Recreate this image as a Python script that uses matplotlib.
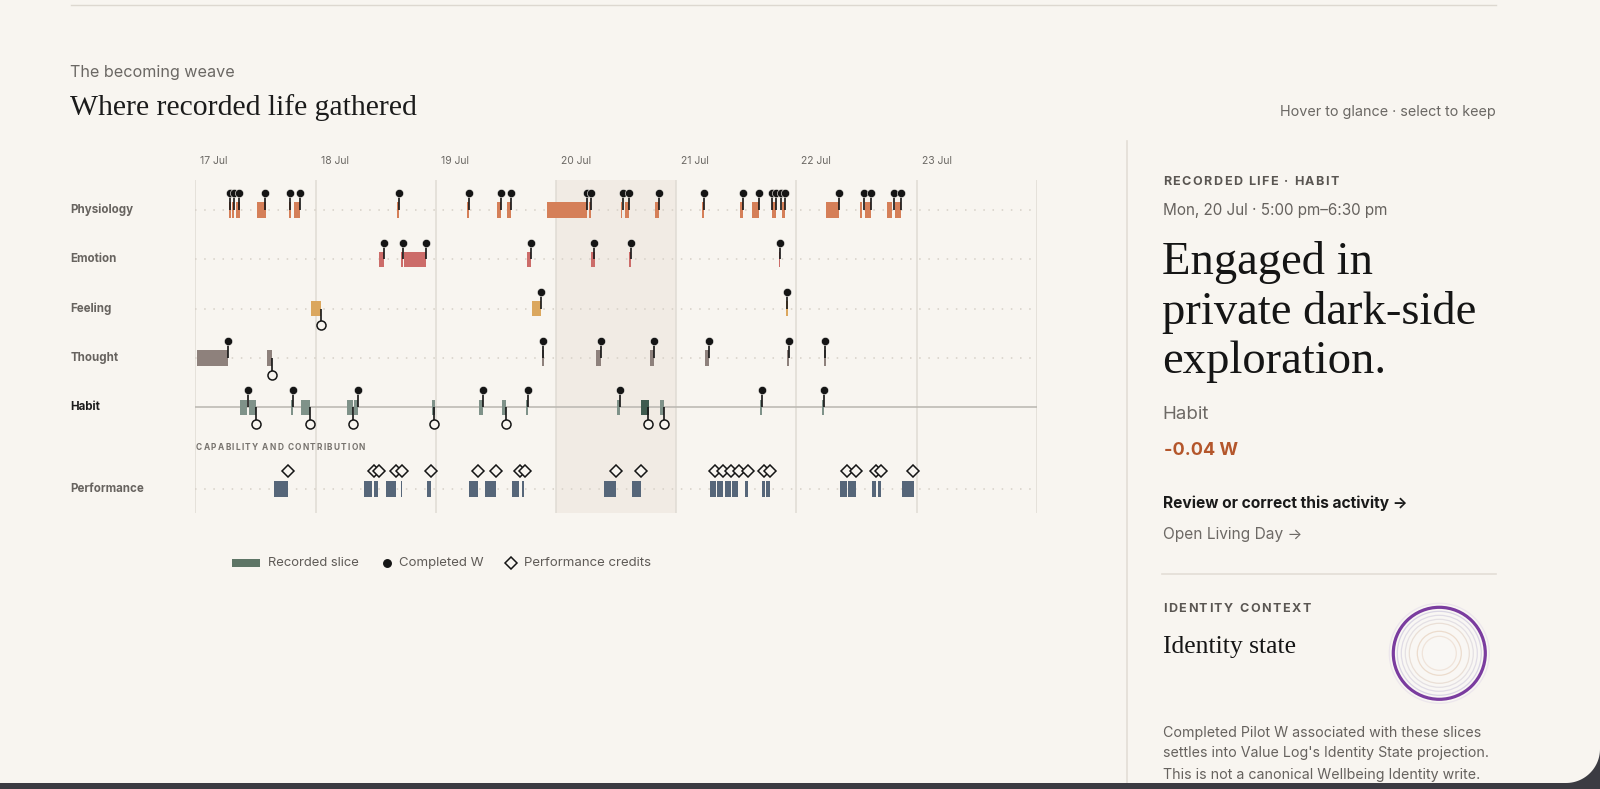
import numpy as np
import matplotlib
matplotlib.use("Agg")
import matplotlib.pyplot as plt
import matplotlib.transforms as mtransforms
from matplotlib.patches import Rectangle, Circle, Polygon
from matplotlib.lines import Line2D

W, H = 1600, 789
BG = "#f8f5f0"
BAND = "#f1ebe4"
GRID = "#e0dbd4"
ROWDOT = "#d6d0c7"
DOT = "#151515"
FRAME = "#3b3b42"
SANS = ["Inter", "DejaVu Sans"]
SERIF = ["Liberation Serif", "DejaVu Serif"]

# ---------------- data (hours since 17 Jul 00:00) ----------------
DAY_LABELS = ["17 Jul", "18 Jul", "19 Jul", "20 Jul", "21 Jul", "22 Jul", "23 Jul"]
SELECTED_DAY = "20 Jul"
ROWS = ["Physiology", "Emotion", "Feeling", "Thought", "Habit", "Performance"]

PHYSIOLOGY_SLICES = [(6.7, 7.1), (7.3, 7.8), (8.1, 8.9), (12.3, 14.1), (18.7, 19.2),
                     (19.7, 21.0), (40.2, 40.7), (54.2, 54.6), (60.2, 61.0), (62.2, 63.0),
                     (70.2, 78.2), (78.6, 79.0), (84.9, 85.2), (85.7, 86.5), (91.7, 92.5),
                     (101.1, 101.5), (108.7, 109.3), (111.2, 112.5), (115.2, 116.0),
                     (117.2, 117.7), (126.0, 128.5), (132.7, 133.2), (133.7, 135.0),
                     (138.2, 139.2), (139.7, 141.0)]
PHYSIOLOGY_W = [6.9, 7.7, 8.8, 14.0, 19.0, 21.0, 40.7, 54.6, 61.0, 63.0, 78.3, 79.1,
                85.4, 86.5, 92.5, 101.5, 109.3, 112.5, 115.1, 116.0, 116.9, 117.7,
                128.5, 133.5, 135.0, 139.5, 141.0]
PHYSIOLOGY_OPEN = []

EMOTION_SLICES = [(36.7, 37.7), (41.1, 41.4), (41.7, 46.1), (66.3, 67.0), (79.0, 79.8),
                  (86.6, 87.0), (116.5, 116.8)]
EMOTION_W = [37.7, 41.5, 46.0, 67.0, 79.7, 87.0, 116.8]
EMOTION_OPEN = []

FEELING_SLICES = [(23.2, 25.0), (67.2, 69.0), (118.0, 118.4)]
FEELING_W = [69.0, 118.2]
FEELING_OPEN = [25.0]

THOUGHT_SLICES = [(0.3, 6.6), (14.3, 15.4), (69.2, 69.6), (80.0, 81.0), (90.8, 91.5),
                  (101.7, 102.5), (118.2, 118.6), (125.5, 125.9)]
THOUGHT_W = [6.6, 69.5, 81.0, 91.5, 102.5, 118.5, 125.8]
THOUGHT_OPEN = [15.4]

HABIT_SLICES = [(9.0, 10.3), (10.8, 12.1), (19.2, 19.5), (21.2, 23.0), (30.2, 31.4),
                (31.7, 32.5), (47.2, 47.8), (56.7, 57.5), (61.2, 62.0), (66.0, 66.4),
                (84.2, 84.8), (89.0, 90.5), (92.8, 93.5), (112.7, 113.1), (125.2, 125.6)]
HABIT_SELECTED = (89.0, 90.5)
HABIT_W = [10.6, 19.6, 32.5, 57.5, 66.4, 84.8, 113.1, 125.5]
HABIT_OPEN = [12.1, 23.0, 31.5, 47.7, 62.0, 90.4, 93.5]

PERFORMANCE_SLICES = [(15.7, 18.6), (33.7, 35.3), (35.7, 36.5), (38.0, 40.0), (41.0, 41.3),
                      (46.2, 47.0), (54.7, 56.5), (57.8, 60.0), (63.2, 64.7), (65.2, 65.7),
                      (81.7, 84.0), (87.2, 89.0), (102.7, 104.0), (104.2, 105.4),
                      (105.7, 107.0), (107.1, 108.4), (109.7, 110.4), (113.1, 113.7),
                      (114.0, 114.8), (128.7, 130.1), (130.3, 132.0), (135.2, 135.9),
                      (136.3, 137.0), (141.2, 143.6)]
PERFORMANCE_CREDITS = [18.6, 35.7, 36.7, 40.1, 41.3, 47.0, 56.5, 60.0, 64.9, 65.8, 84.0,
                       89.0, 103.7, 105.4, 106.9, 108.5, 110.3, 113.5, 114.7, 130.1,
                       132.0, 135.9, 137.0, 143.4]

ROW_COLORS = ["#d57f58", "#cc6c69", "#dba75e", "#8e817c", "#7f9289", "#566679"]
HABIT_SEL_COLOR = "#3f5b4f"

# ---------------- figure ----------------
fig = plt.figure(figsize=(16, 7.89), dpi=100, facecolor=BG)
renderer = fig.canvas.get_renderer()


def fx(x):
    return x / W


def fy(y):
    return 1 - y / H


def fit_text(x, y, s, width, size0=10, ha="left", va="center", **kw):
    t = fig.text(fx(x), fy(y), s, fontsize=size0, ha=ha, va=va, **kw)
    bw = t.get_window_extent(renderer).width
    t.set_fontsize(size0 * width / bw)
    return t


def spaced_text(x, y, s, width, size, **kw):
    def w_of(txt):
        t = fig.text(0, 0, txt, fontsize=size, **kw)
        wd = t.get_window_extent(renderer).width
        t.remove()
        return wd
    wx = w_of("x")
    offs = [0.0] + [w_of(s[:i] + "x") - wx for i in range(1, len(s))]
    natural = w_of(s)
    track = (width - natural) / (len(s) - 1)
    base = y + 0.36 * size * 100 / 72
    for i, ch in enumerate(s):
        if ch == " ":
            continue
        fig.text(fx(x + offs[i] + i * track), fy(base), ch, fontsize=size,
                 ha="left", va="baseline", **kw)


# page frame lines
fig.add_artist(Line2D([fx(71), fx(1496)], [fy(5), fy(5)], color="#ddd8d0", lw=1))
fig.add_artist(Line2D([fx(1127), fx(1127)], [fy(141), fy(783)], color="#e3ded6", lw=1.2))
fig.add_artist(Line2D([fx(1162), fx(1496)], [fy(574), fy(574)], color="#e3ded6", lw=1.2))
fig.add_artist(Rectangle((0, 0), 1, fy(783), transform=fig.transFigure,
                         color=FRAME, lw=0, zorder=10))
# rounded bottom-right corner of the window
rc = 34
ang = np.linspace(0, np.pi / 2, 30)
arc = [(fx(W - rc + rc * np.cos(a)), fy(783 - rc + rc * np.sin(a))) for a in ang]
corner = [(fx(W), fy(783 - rc))] + arc[::-1][::-1] + [(fx(W - rc), fy(789)), (fx(W), fy(789))]
fig.add_artist(Polygon(corner, closed=True, transform=fig.transFigure, color=FRAME,
                       lw=0, zorder=10))

# header
fit_text(70.4, 72.5, "The becoming weave", 165, color="#6b6864", family=SANS)
fit_text(70.4, 108, "Where recorded life gathered", 346, color="#1b1b1b", family=SERIF)
fit_text(1496, 112, "Hover to glance · select to keep", 217, ha="right",
         color="#6b6864", family=SANS)

# ---------------- timeline axes ----------------
X0, X1, Y0, Y1 = 195.3, 1036.7, 180, 513
PX_PER_ROW = 49.3
ax = fig.add_axes([fx(X0), fy(Y1), (X1 - X0) / W, (Y1 - Y0) / H])
ax.set_xlim(0, 24 * len(DAY_LABELS))
ax.set_ylim((Y1 - 210) / PX_PER_ROW, -(210 - Y0) / PX_PER_ROW)
ax.axis("off")
ax.patch.set_alpha(0)

ROW_POS = [0, 1, 2, 3, 4, 5.66]
BAR_H = 0.31
PIN = 0.34

sel = DAY_LABELS.index(SELECTED_DAY)
ax.axvspan(24 * sel, 24 * (sel + 1), color=BAND, lw=0, zorder=0)
for i in range(len(DAY_LABELS) + 1):
    ax.axvline(24 * i, color=GRID, lw=1.1, zorder=0.5)
for i, lab in enumerate(DAY_LABELS):
    ax.text(24 * i + 1.0, -(210 - 161) / PX_PER_ROW, lab, fontsize=7.5, color="#6b6864",
            ha="left", va="center", family=SANS, clip_on=False)

trans_lab = mtransforms.blended_transform_factory(fig.transFigure, ax.transData)
for name, yp in zip(ROWS, ROW_POS):
    is_hab = name == "Habit"
    ax.text(fx(70.4), yp, name, transform=trans_lab, fontsize=8.3, fontweight="bold",
            color="#1c1c1c" if is_hab else "#67635f", ha="left", va="center", family=SANS)
    if is_hab:
        ax.plot([0, 168], [yp, yp], color="#b9b6b0", lw=1.1, zorder=1)
    else:
        ax.plot([0, 168], [yp, yp], color=ROWDOT, lw=1.1, ls=(0, (1, 5)), zorder=1)

spaced_text(196, 447, "CAPABILITY AND CONTRIBUTION", 169, 6.0, color="#77736e",
            fontweight="bold", family=SANS)

series = [
    (PHYSIOLOGY_SLICES, PHYSIOLOGY_W, PHYSIOLOGY_OPEN),
    (EMOTION_SLICES, EMOTION_W, EMOTION_OPEN),
    (FEELING_SLICES, FEELING_W, FEELING_OPEN),
    (THOUGHT_SLICES, THOUGHT_W, THOUGHT_OPEN),
    (HABIT_SLICES, HABIT_W, HABIT_OPEN),
]
for (slices, wins, opens), yp, col in zip(series, ROW_POS, ROW_COLORS):
    for (a, b) in slices:
        c = HABIT_SEL_COLOR if (col == ROW_COLORS[4] and (a, b) == HABIT_SELECTED) else col
        ax.barh(yp, b - a, left=a, height=BAR_H, color=c, lw=0, zorder=2)
    for h in wins:
        ax.plot([h, h], [yp, yp - PIN], color=DOT, lw=1.2, zorder=3, solid_capstyle="butt")
        ax.plot(h, yp - PIN, "o", ms=5.9, mfc=DOT, mec=BG, mew=0.4, zorder=4)
    for h in opens:
        ax.plot([h, h], [yp, yp + PIN], color=DOT, lw=1.2, zorder=3, solid_capstyle="butt")
        ax.plot(h, yp + PIN, "o", ms=6.5, mfc=BG, mec=DOT, mew=1.1, zorder=4)

yp = ROW_POS[5]
for (a, b) in PERFORMANCE_SLICES:
    ax.barh(yp, b - a, left=a, height=BAR_H, color=ROW_COLORS[5], lw=0, zorder=2)
for h in PERFORMANCE_CREDITS:
    ax.plot(h, yp - 0.37, "D", ms=6.6, mfc=BG, mec=DOT, mew=1.1, zorder=4)

# ---------------- legend ----------------
fig.add_artist(Rectangle((fx(232), fy(567)), (260 - 232) / W, 8 / H,
                         transform=fig.transFigure, color="#5e7566", lw=0))
fit_text(267.7, 563, "Recorded slice", 92, color="#5f5b57", family=SANS)
fig.add_artist(Line2D([fx(386.7)], [fy(563)], marker="o", ms=5.4, color=DOT, lw=0))
fit_text(399, 563, "Completed W", 85, color="#5f5b57", family=SANS)
fig.add_artist(Line2D([fx(511)], [fy(563)], marker="D", ms=6.0, mfc=BG, mec=DOT,
                      mew=1.1, lw=0))
fit_text(524.3, 563, "Performance credits", 128, color="#5f5b57", family=SANS)

# ---------------- right detail panel ----------------
spaced_text(1162.7, 180.7, "RECORDED LIFE · HABIT", 176, 9.0, color="#5a5652",
            fontweight="bold", family=SANS)
fit_text(1162.7, 211, "Mon, 20 Jul · 5:00 pm–6:30 pm", 227, color="#66625e", family=SANS)
t = fit_text(1162, 312, "private dark-side", 316, color="#151515", family=SERIF)
hs = t.get_fontsize()
fig.text(fx(1162), fy(262.5), "Engaged in", fontsize=hs, color="#151515", family=SERIF,
         ha="left", va="center")
fig.text(fx(1162), fy(362), "exploration.", fontsize=hs, color="#151515", family=SERIF,
         ha="left", va="center")
fit_text(1162.7, 414.5, "Habit", 47, color="#6d6965", family=SANS)
fit_text(1164, 450.5, "-0.04 W", 74, color="#b4562b", fontweight="bold", family=SANS)
fit_text(1162.7, 503, "Review or correct this activity →", 245, color="#1a1a1a",
         fontweight="bold", family=SANS)
fit_text(1162.7, 534, "Open Living Day →", 140, color="#6d6965", family=SANS)

spaced_text(1162.7, 607.3, "IDENTITY CONTEXT", 148, 9.0, color="#5a5652",
            fontweight="bold", family=SANS)
fit_text(1162.7, 646.5, "Identity state", 133, color="#151515", family=SERIF)

para = ["Completed Pilot W associated with these slices",
        "settles into Value Log's Identity State projection.",
        "This is not a canonical Wellbeing Identity write."]
t = fit_text(1162.7, 753.3, para[1], 326, color="#66625e", family=SANS)
ps = t.get_fontsize()
for yy, line in zip([732.7, 774.5], [para[0], para[2]]):
    fig.text(fx(1162.7), fy(yy), line, fontsize=ps, color="#66625e", family=SANS,
             ha="left", va="center")

# identity rings
cx, cy, R = 1439.3, 653.3, 60
cax = fig.add_axes([fx(cx - R), fy(cy + R), 2 * R / W, 2 * R / H])
cax.set_xlim(-R, R)
cax.set_ylim(-R, R)
cax.axis("off")
RING_R = [50, 42, 38, 34, 30, 22, 17]
RING_C = ["#ece6ec", "#d9d5e4", "#e0dce6", "#e4e0e4", "#eadfd6", "#ecdccd", "#f0e4da"]
cax.add_patch(Circle((0, 0), 49, facecolor="#f9f7f4", edgecolor="none"))
for r, c in zip(RING_R, RING_C):
    cax.add_patch(Circle((0, 0), r, facecolor="none", edgecolor=c, lw=0.9))
cax.add_patch(Circle((0, 0), 46, facecolor="none", edgecolor="#7a3c9f", lw=2.3))

fig.savefig("out.png", dpi=100, facecolor=BG)
